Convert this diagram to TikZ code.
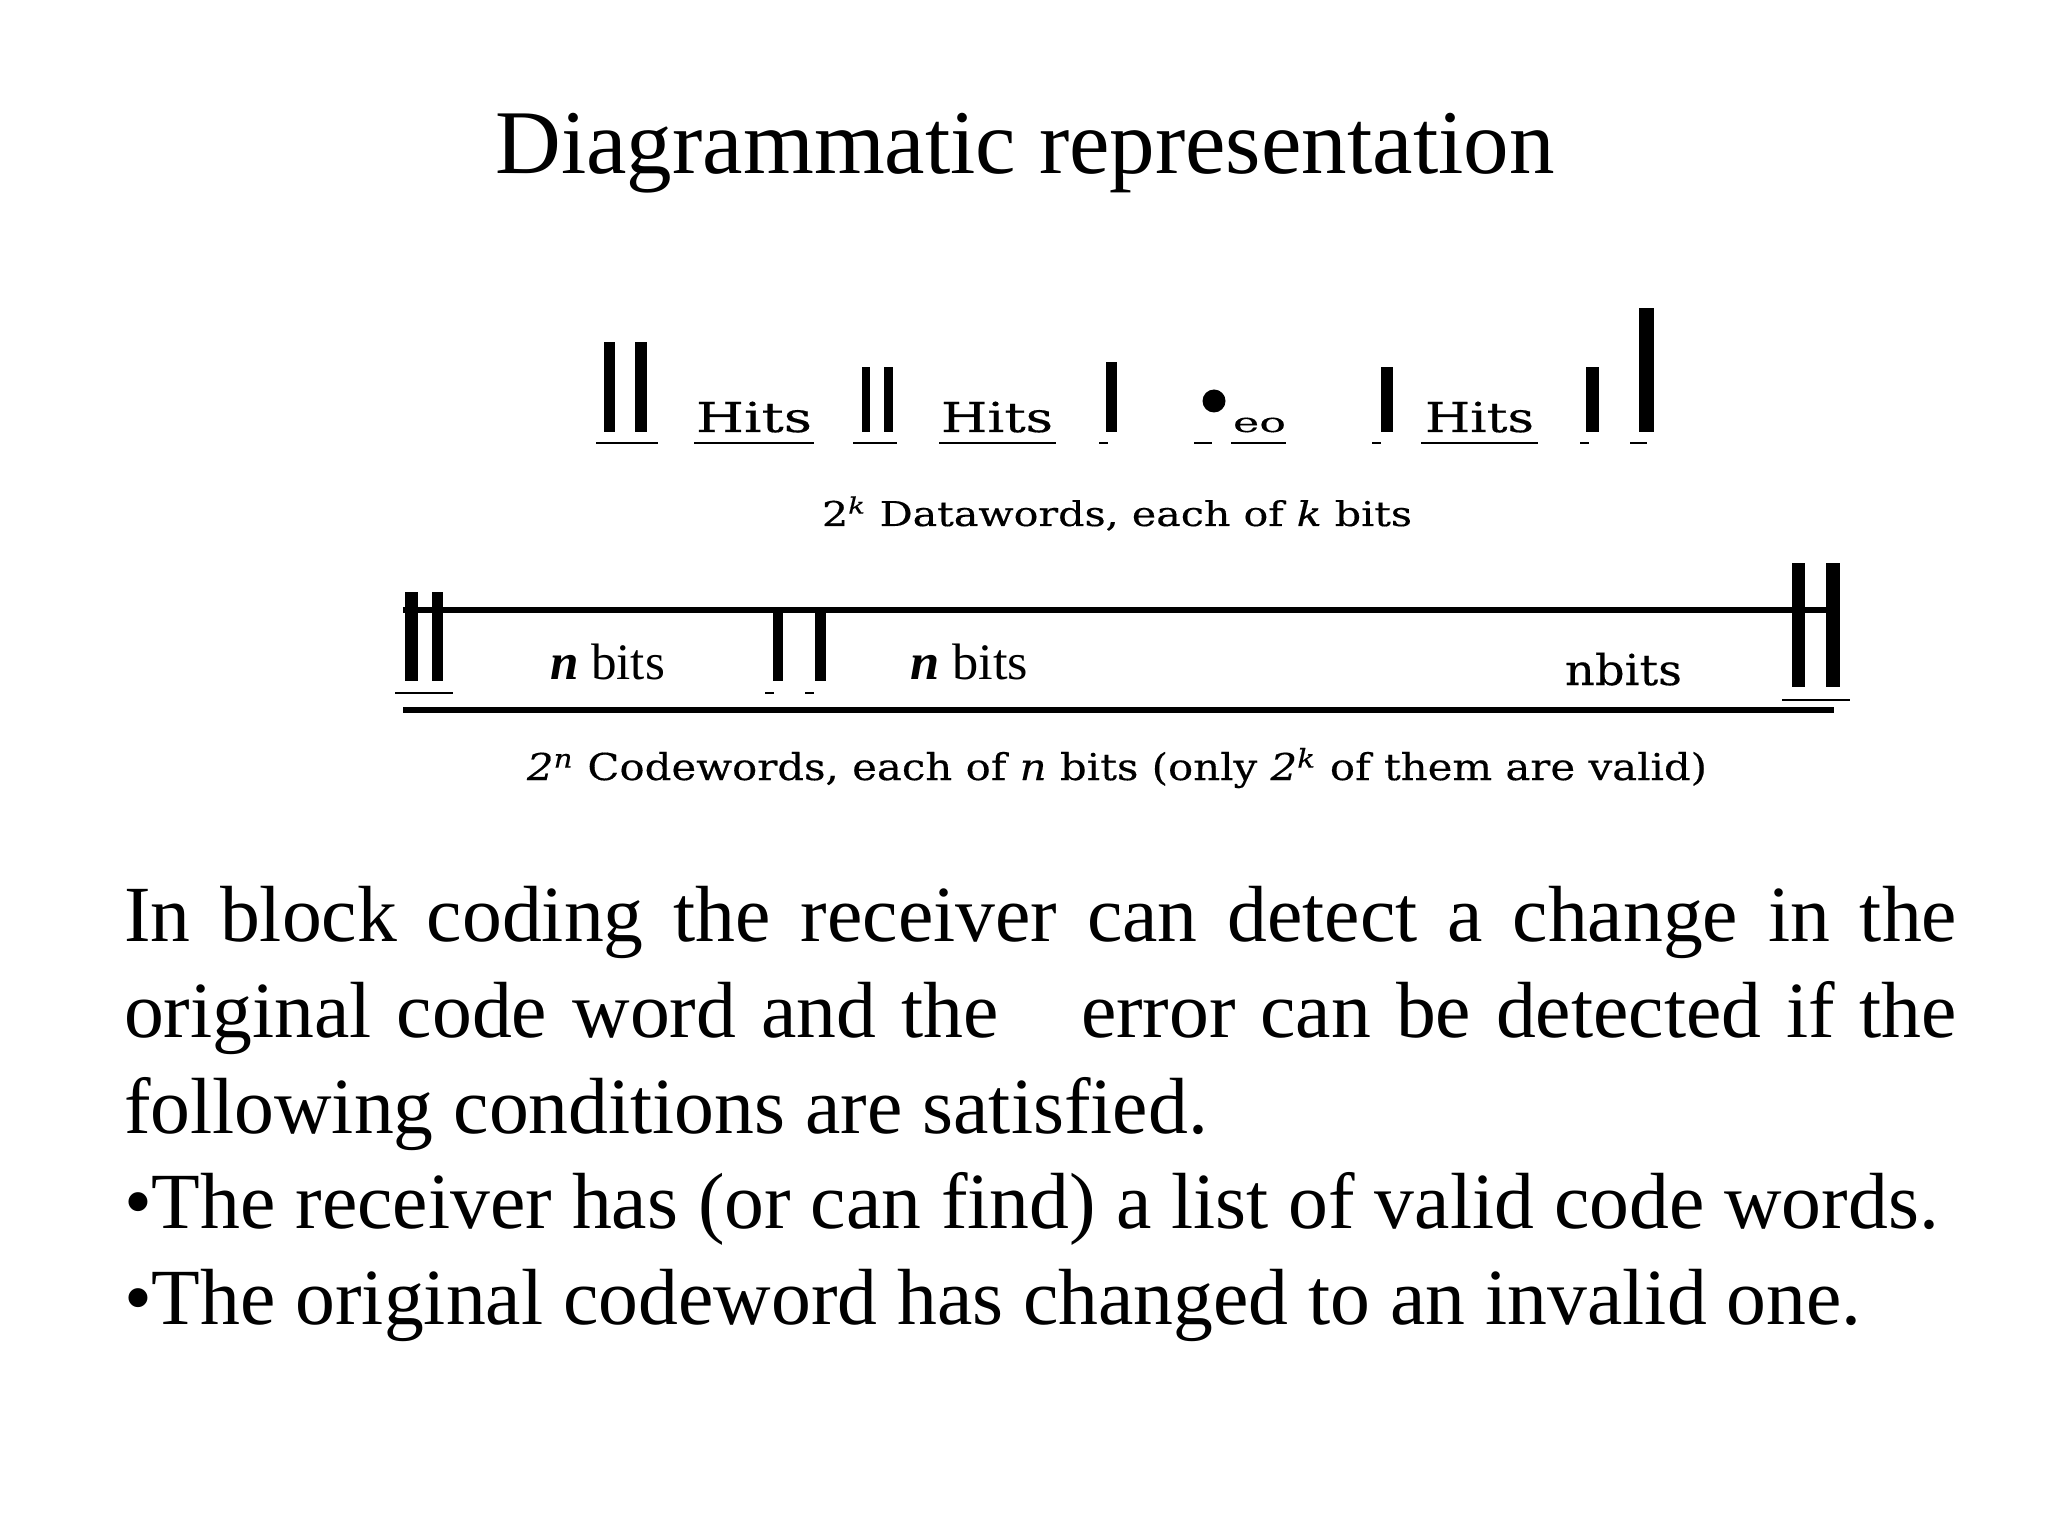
\documentclass[tikz,border=0pt]{standalone}
\usepackage{fontspec}
\usepackage{graphicx}
\setmainfont{Liberation Serif}
\newfontfamily\cent[FakeBold=0.35]{DejaVu Serif}
\newdimen\pxu \pxu=0.3515625pt
\newcommand\fitw[2]{\resizebox{#1\pxu}{\height}{#2}}
\begin{document}
\begin{tikzpicture}[x=0.3515625pt,y=-0.3515625pt,
  txt/.style={inner sep=0pt, outer sep=0pt, anchor=base west},
  bar/.style={fill=black, draw=none},
  uline/.style={draw=black, line width=1.05pt},
  topline/.style={draw=black, line width=2.46pt},
  botline/.style={draw=black, line width=1.76pt},
  hits/.style={txt, font=\cent\fontsize{14.5}{17}\selectfont},
  body/.style={txt, font=\fontsize{28}{33}\selectfont}]
\fill[white] (0,0) rectangle (2048,1536);
\useasboundingbox (0,0) rectangle (2048,1536);

% title
\node[inner sep=0pt, anchor=base, font=\fontsize{32}{38}\selectfont] (title) at (1025,174) {Diagrammatic representation};

% ---------- datawords row ----------
\fill[bar] (604,342) rectangle (615,432);
\fill[bar] (635,342) rectangle (647,432);
\draw[uline] (596,443) -- (658,443);
\node[hits] (hits1) at (696,432) {\fitw{116}{Hits}};
\draw[uline] (694,443) -- (814,443);
\fill[bar] (862,367) rectangle (870,432);
\fill[bar] (884,367) rectangle (893,432);
\draw[uline] (853,443) -- (897,443);
\node[hits] (hits2) at (941,432) {\fitw{112}{Hits}};
\draw[uline] (939,443) -- (1056,443);
\fill[bar] (1106,362) rectangle (1117,432);
\draw[uline] (1099,443) -- (1108,443);
\fill (1214,401) circle (11.5);
\draw[uline] (1194,443) -- (1212,443);
\node[txt, font=\cent\fontsize{9.5}{11}\selectfont] (eo) at (1233,432) {\fitw{53}{eo}};
\draw[uline] (1231,443) -- (1286,443);
\fill[bar] (1381,367) rectangle (1393,432);
\draw[uline] (1372,443) -- (1381,443);
\node[hits] (hits3) at (1425,432) {\fitw{109}{Hits}};
\draw[uline] (1421,443) -- (1538,443);
\fill[bar] (1586,367) rectangle (1599,432);
\draw[uline] (1580,443) -- (1589,443);
\fill[bar] (1639,308) rectangle (1654,432);
\draw[uline] (1630,443) -- (1647,443);

\node[txt, font=\cent\fontsize{12}{14}\selectfont] (datalbl) at (822,526)
  {\fitw{590}{2\textsuperscript{\itshape k} Datawords, each of \textit{k} bits}};

% ---------- codewords row ----------
\draw[topline] (403,610) -- (1840,610);
\fill[bar] (405,592) rectangle (418,681);
\fill[bar] (432,592) rectangle (443,681);
\draw[uline] (395,693) -- (453,693);
\fill[bar] (773,610) rectangle (783,681);
\fill[bar] (815,610) rectangle (826,681);
\draw[uline] (765,693) -- (774,693);
\draw[uline] (805,693) -- (814,693);
\fill[bar] (1792,563) rectangle (1805,687);
\fill[bar] (1826,563) rectangle (1840,687);
\draw[uline] (1782,700) -- (1850,700);
\draw[botline] (403,710) -- (1834,710);

\node[txt, font=\fontsize{18}{21}\selectfont] (nb1) at (550,680) {\fitw{115}{\textbf{\textit{n}} bits}};
\node[txt, font=\fontsize{18}{21}\selectfont] (nb2) at (910,680) {\fitw{118}{\textbf{\textit{n}} bits}};
\node[txt, font=\cent\fontsize{15}{18}\selectfont] (nb3) at (1565,685) {\fitw{117}{nbits}};

\node[txt, font=\cent\fontsize{13}{15}\selectfont] (codelbl) at (527,780)
  {\fitw{1180}{\textit{2}\textsuperscript{\itshape n} Codewords, each of \textit{n} bits (only \textit{2}\textsuperscript{\itshape k} of them are valid)}};

% ---------- body text ----------
\node[body] (l1) at (124,941) {\makebox[1833\pxu][s]{In block coding the receiver can detect a change in the}};
\node[body] (l2a) at (124,1037) {\makebox[875\pxu][s]{original code word and the}};
\node[body] (l2b) at (1081,1037) {\makebox[876\pxu][s]{error can be detected if the}};
\node[body] (l3) at (124,1133) {following conditions are satisfied.};
\node[body] (l4) at (124,1228) {•The receiver has (or can find) a list of valid code words.};
\node[body] (l5) at (124,1324) {•The original codeword has changed to an invalid one.};
\end{tikzpicture}
\end{document}
